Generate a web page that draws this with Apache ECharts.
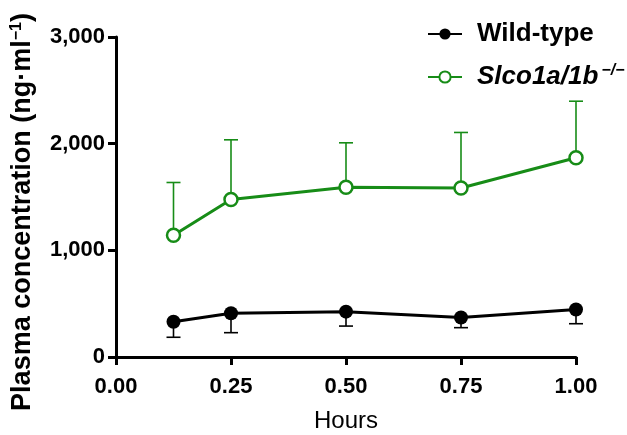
<!DOCTYPE html>
<html>
<head>
<meta charset="utf-8">
<script src="https://cdn.jsdelivr.net/npm/echarts@6/dist/echarts.min.js"></script>
<style>
html, body { margin: 0; padding: 0; background: #fff; }
#chart { width: 627px; height: 435px; }
</style>
</head>
<body>
<div id="chart"></div>
<script>
let hours = [0.125, 0.25, 0.5, 0.75, 1.0]
let wildType = [330, 410, 425, 370, 446]
let wildTypeLow = [185, 228, 290, 275, 312]
let knockout = [1142, 1476, 1592, 1585, 1868]
let knockoutHigh = [1636, 2036, 2008, 2105, 2398]
let yTicks = [0, 1000, 2000, 3000]

let green = '#178c17'

let pairs = (xs, ys) => xs.map((x, i) => [x, ys[i]])

// error bars: [x, from, to], one side only
let errorBar = (color) => (params, api) => {
    let x = api.value(0)
    let p0 = api.coord([x, api.value(1)])
    let p1 = api.coord([x, api.value(2)])
    let half = 7
    return {
        type: 'group',
        children: [
            { type: 'line', shape: { x1: p0[0], y1: p0[1], x2: p1[0], y2: p1[1] }, style: { stroke: color, lineWidth: 1.6 } },
            { type: 'line', shape: { x1: p1[0] - half, y1: p1[1], x2: p1[0] + half, y2: p1[1] }, style: { stroke: color, lineWidth: 1.6 } }
        ]
    }
}

let mychart = echarts.init(document.getElementById('chart'))
let options = {
    animation: false,
    textStyle: { fontFamily: 'Arial, "Liberation Sans", sans-serif' },
    grid: { left: 116, right: 51, top: 37, bottom: 78, outerBoundsMode: 'none' },
    legend: {
        orient: 'vertical',
        left: 422,
        top: 16,
        itemWidth: 34,
        itemHeight: 14,
        itemGap: 16,
        textStyle: {
            fontSize: 26,
            fontWeight: 'bold',
            color: '#000',
            padding: [0, 0, 0, 10],
            rich: {
                it: { fontSize: 26, fontWeight: 'bold', fontStyle: 'italic', color: '#000' },
                sup: { fontSize: 16, fontWeight: 'bold', fontStyle: 'italic', color: '#000', verticalAlign: 'top', padding: [0, 0, 12, 3] }
            }
        },
        formatter: (name) => name === 'Wild-type' ? name : '{it|Slco1a/1b}{sup|−/−}',
        data: ['Wild-type', 'Slco1a/1b']
    },
    xAxis: {
        type: 'value',
        min: 0,
        max: 1,
        interval: 0.25,
        name: 'Hours',
        nameLocation: 'middle',
        nameGap: 52,
        nameTextStyle: { fontSize: 24, color: '#000' },
        axisLine: { lineStyle: { color: '#000', width: 3 } },
        axisTick: { length: 8, lineStyle: { color: '#000', width: 3 } },
        axisLabel: { fontSize: 22, fontWeight: 'bold', color: '#000', margin: 19, formatter: (v) => v.toFixed(2) },
        splitLine: { show: false }
    },
    yAxis: {
        type: 'value',
        min: yTicks[0],
        max: yTicks[yTicks.length - 1],
        interval: 1000,
        name: '{a|Plasma concentration (ng·ml}{s|−1}{a|)}',
        nameLocation: 'middle',
        nameGap: 79,
        nameTextStyle: {
            padding: [0, 30, 0, 0],
            rich: {
                a: { fontSize: 27, fontWeight: 'bold', color: '#000' },
                s: { fontSize: 16, fontWeight: 'bold', color: '#000', verticalAlign: 'top', padding: [0, 0, 12, 0] }
            }
        },
        axisLine: { show: true, lineStyle: { color: '#000', width: 3 } },
        axisTick: { show: true, length: 8, lineStyle: { color: '#000', width: 3 } },
        axisLabel: { fontSize: 22, fontWeight: 'bold', color: '#000', margin: 11, formatter: (v) => v.toLocaleString('en-US') },
        splitLine: { show: false }
    },
    series: [
        {
            name: 'knockoutErr',
            type: 'custom',
            renderItem: errorBar(green),
            data: hours.map((x, i) => [x, knockout[i], knockoutHigh[i]]),
            z: 1
        },
        {
            name: 'wildErr',
            type: 'custom',
            renderItem: errorBar('#000'),
            data: hours.map((x, i) => [x, wildType[i], wildTypeLow[i]]),
            z: 1
        },
        {
            name: 'Wild-type',
            type: 'line',
            data: pairs(hours, wildType),
            symbol: 'circle',
            symbolSize: 14,
            itemStyle: { color: '#000' },
            lineStyle: { color: '#000', width: 3 },
            z: 3
        },
        {
            name: 'Slco1a/1b',
            type: 'line',
            data: pairs(hours, knockout),
            symbol: 'circle',
            symbolSize: 13,
            itemStyle: { color: '#fff', borderColor: green, borderWidth: 2.5 },
            lineStyle: { color: green, width: 3 },
            z: 3
        }
    ]
}
mychart.setOption(options)
</script>
</body>
</html>
